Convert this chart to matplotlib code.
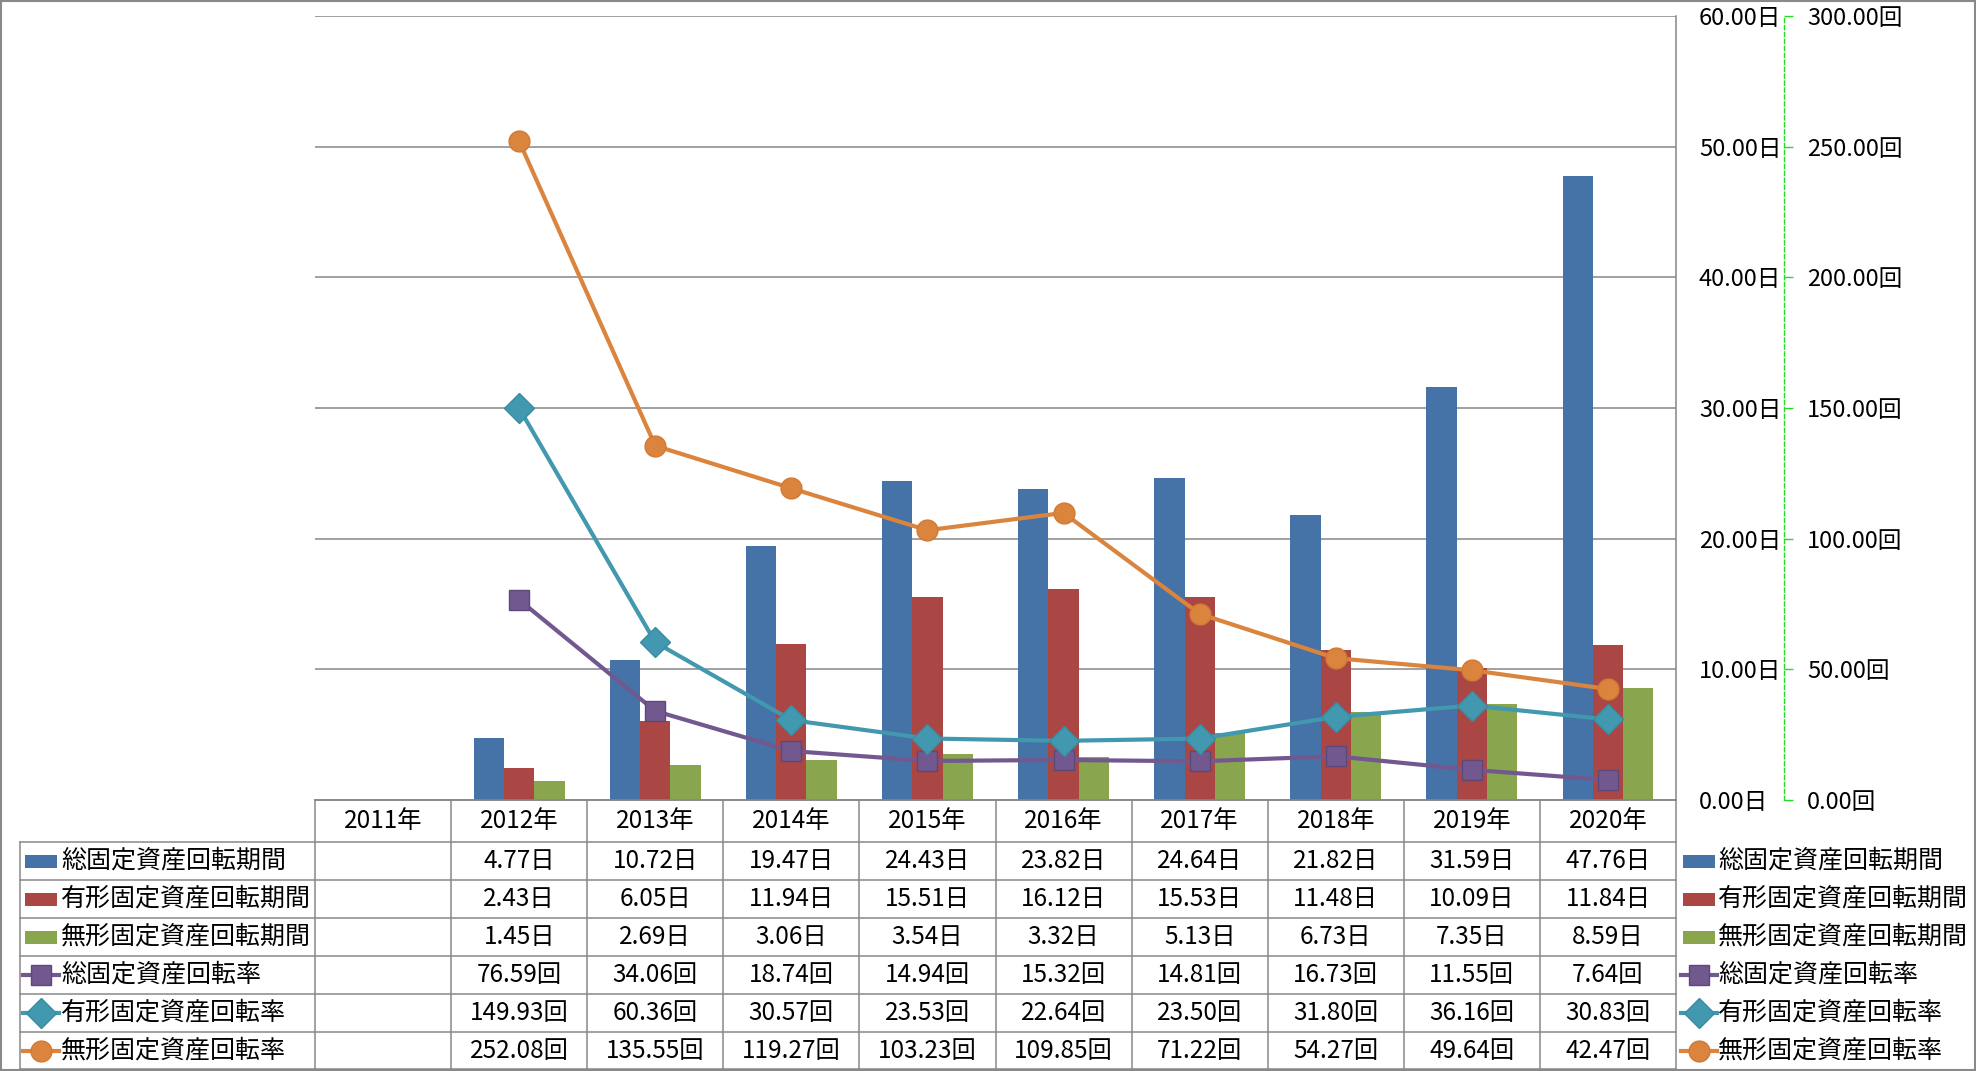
import numpy as np
import matplotlib
matplotlib.use('Agg')
import matplotlib.pyplot as plt
from matplotlib.patches import Rectangle
from matplotlib.lines import Line2D

plt.rcParams['font.family'] = ['Noto Sans CJK JP', 'DejaVu Sans']

years = ['2011年', '2012年', '2013年', '2014年', '2015年', '2016年', '2017年', '2018年', '2019年', '2020年']

# 回転期間 (日)
total_days = [np.nan, 4.77, 10.72, 19.47, 24.43, 23.82, 24.64, 21.82, 31.59, 47.76]
tangible_days = [np.nan, 2.43, 6.05, 11.94, 15.51, 16.12, 15.53, 11.48, 10.09, 11.84]
intangible_days = [np.nan, 1.45, 2.69, 3.06, 3.54, 3.32, 5.13, 6.73, 7.35, 8.59]

# 回転率 (回)
total_rate = [np.nan, 76.59, 34.06, 18.74, 14.94, 15.32, 14.81, 16.73, 11.55, 7.64]
tangible_rate = [np.nan, 149.93, 60.36, 30.57, 23.53, 22.64, 23.50, 31.80, 36.16, 30.83]
intangible_rate = [np.nan, 252.08, 135.55, 119.27, 103.23, 109.85, 71.22, 54.27, 49.64, 42.47]

bar_names = ['総固定資産回転期間', '有形固定資産回転期間', '無形固定資産回転期間']
line_names = ['総固定資産回転率', '有形固定資産回転率', '無形固定資産回転率']
bar_colors = ['#4572A7', '#AA4643', '#89A54E']
line_colors = ['#71588F', '#4198AF', '#DB843D']
line_edges = ['#5E4878', '#3A8CA3', '#D07A35']
markers = ['s', 'D', 'o']
msizes = [15, 15, 15]

W, H = 1976, 1071
fig = plt.figure(figsize=(W / 100, H / 100), dpi=100)

L, R, T, B = 315, 1676, 16, 800
ax = fig.add_axes([L / W, (H - B) / H, (R - L) / W, (B - T) / H])
ax2 = ax.twinx()
ax.yaxis.tick_right()

x = np.arange(len(years))
bw = 1 / 4.5
for i, (vals, c) in enumerate(zip([total_days, tangible_days, intangible_days], bar_colors)):
    ax.bar(x + (i - 1) * bw, vals, width=bw, color=c, zorder=2)

for vals, c, ec, m, ms in zip([total_rate, tangible_rate, intangible_rate], line_colors, line_edges, markers, msizes):
    ax2.plot(x, vals, color=c, lw=3, marker=m, ms=ms, mfc=c, mec=ec, mew=1, zorder=3)

grid_c = '#868686'
ax.set_xlim(-0.5, len(years) - 0.5)
ax.set_ylim(0, 60)
ax.set_yticks(np.arange(0, 61, 10))
ax.set_yticklabels([f'{v:.2f}日' for v in np.arange(0, 61, 10)])
ax.tick_params(axis='y', length=0, pad=16.5, labelsize=17)
ax.set_xticks([])
ax.grid(axis='y', color=grid_c, lw=1.1, zorder=0)
ax.set_axisbelow(True)
for s in ['left', 'top']:
    ax.spines[s].set_visible(False)
for s in ['right', 'bottom']:
    ax.spines[s].set_color(grid_c)
    ax.spines[s].set_linewidth(1.1)

ax2.set_ylim(0, 300)
ax2.set_yticks(np.arange(0, 301, 50))
ax2.set_yticklabels([f'{v:.2f}回' for v in np.arange(0, 301, 50)])
for s in ['left', 'top', 'bottom']:
    ax2.spines[s].set_visible(False)
ax2.spines['right'].set_position(('axes', (1784 - L) / (R - L)))
ax2.spines['right'].set_color('#22DD22')
ax2.spines['right'].set_linestyle((0, (3, 2)))
ax2.spines['right'].set_linewidth(1)
ax2.tick_params(axis='y', length=6.5, width=1, color='#22DD22', pad=10, labelsize=17)
ax2.set_xticks([])

# table + legend drawn in pixel coordinates
ov = fig.add_axes([0, 0, 1, 1], zorder=-1)
ov.set_xlim(0, W)
ov.set_ylim(H, 0)
ov.axis('off')

tc = '#898989'
tlw = 1.1
row_h = 38
header_top, header_bot = B, 842
rows_y = [header_bot + k * row_h for k in range(7)]
rows_y[-1] = 1069
col_w = (R - L) / len(years)
fs = 17.5
fs_name = 18

ov.plot([L, R], [header_top, header_top], color=tc, lw=tlw)
ov.plot([20, R], [header_bot, header_bot], color=tc, lw=tlw)
for yy in rows_y[1:]:
    ov.plot([20, R], [yy, yy], color=tc, lw=tlw)
ov.plot([20, 20], [header_bot, rows_y[-1]], color=tc, lw=tlw)
for k in range(len(years) + 1):
    xx = L + k * col_w
    ov.plot([xx, xx], [header_top, rows_y[-1]], color=tc, lw=tlw)

for k, yr in enumerate(years):
    ov.text(L + (k + 0.5) * col_w, (header_top + header_bot) / 2, yr,
            ha='center', va='center', fontsize=fs)

series = [total_days, tangible_days, intangible_days, total_rate, tangible_rate, intangible_rate]
units = ['日', '日', '日', '回', '回', '回']
names = bar_names + line_names

for r, (vals, unit, name) in enumerate(zip(series, units, names)):
    yc = (rows_y[r] + rows_y[r + 1]) / 2
    for k, v in enumerate(vals):
        if not np.isnan(v):
            ov.text(L + (k + 0.5) * col_w, yc, f'{v:.2f}{unit}', ha='center', va='center', fontsize=fs)
    for kx, tx in [(25, 61), (1683, 1718)]:
        if r < 3:
            ov.add_patch(Rectangle((kx, yc - 6.5), 32, 13, color=bar_colors[r], lw=0))
        else:
            j = r - 3
            ov.add_line(Line2D([kx - 2, kx + 34], [yc, yc], color=line_colors[j], lw=3))
            ov.plot([kx + 16], [yc], marker=markers[j], ms=msizes[j], color=line_colors[j],
                    mec=line_edges[j], mew=1)
        ov.text(tx, yc, name, ha='left', va='center', fontsize=fs_name)

# outer border
ov.add_patch(Rectangle((0.8, 0.8), W - 1.6, H - 1.6, fill=False, ec=tc, lw=1.5))

fig.savefig('out.png', dpi=100)
